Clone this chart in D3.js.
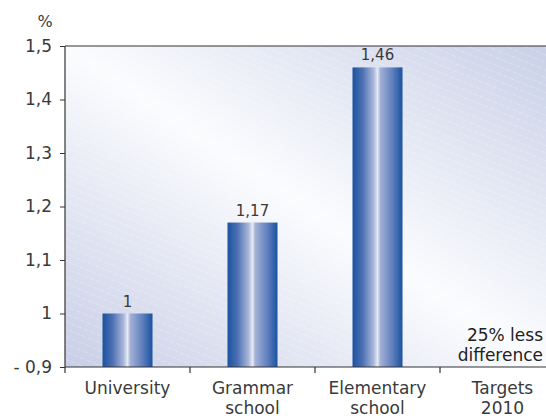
<!DOCTYPE html>
<html>
<head>
<meta charset="utf-8">
<script src="https://cdn.jsdelivr.net/npm/d3@7"></script>
<style>
  body { margin: 0; background: #fff; }
  text { font-family: "DejaVu Sans", sans-serif; fill: #3a3a3a; }
</style>
</head>
<body>
<script>
// data
var categories = [["University"], ["Grammar", "school"], ["Elementary", "school"], ["Targets", "2010"]];
var values = [1, 1.17, 1.46, null];
var valueLabels = ["1", "1,17", "1,46", ""];
var yTicks = [0.9, 1.0, 1.1, 1.2, 1.3, 1.4, 1.5];
var noteLines = ["25% less", "difference"];

var W = 546, H = 420;
var margin = {top: 46, right: 0, bottom: 53, left: 65};

var svg = d3.select("body").append("svg")
    .attr("width", W).attr("height", H);

var defs = svg.append("defs");

// background gradient: blue corners bottom-left / top-right, white diagonal
var bg = defs.append("linearGradient").attr("id", "bg")
    .attr("x1", "0%").attr("y1", "100%").attr("x2", "100%").attr("y2", "0%");
bg.append("stop").attr("offset", "0%").attr("stop-color", "#c8cee6");
bg.append("stop").attr("offset", "50%").attr("stop-color", "#fbfcfe");
bg.append("stop").attr("offset", "100%").attr("stop-color", "#c9d0e7");

// faint diagonal stripes
var pat = defs.append("pattern").attr("id", "stripes")
    .attr("patternUnits", "userSpaceOnUse")
    .attr("width", 7).attr("height", 7)
    .attr("patternTransform", "rotate(22)");
pat.append("line").attr("x1", 0).attr("y1", 0).attr("x2", 7).attr("y2", 0)
    .attr("stroke", "#fff").attr("stroke-width", 1.2).attr("stroke-dasharray", "3,2")
    .attr("opacity", 0.45);

// bar gradient
var bar = defs.append("linearGradient").attr("id", "bar")
    .attr("x1", "0%").attr("x2", "100%").attr("y1", "0%").attr("y2", "0%");
[["0%", "#1a52a0"], ["20%", "#4d70b3"], ["42%", "#a9b6da"], ["50%", "#e6eaf4"],
 ["56%", "#a2b0d6"], ["80%", "#5f7fbd"], ["100%", "#1a52a0"]].forEach(function(s) {
    bar.append("stop").attr("offset", s[0]).attr("stop-color", s[1]);
});

var x = d3.scaleBand().domain(d3.range(categories.length))
    .range([margin.left, margin.left + 125 * categories.length]);
var y = d3.scaleLinear().domain([0.9, 1.5]).range([H - margin.bottom, margin.top]);

var plotW = W - margin.left;
svg.append("rect").attr("x", margin.left).attr("y", margin.top)
    .attr("width", plotW).attr("height", y(0.9) - y(1.5))
    .attr("fill", "url(#bg)");
svg.append("rect").attr("x", margin.left).attr("y", margin.top)
    .attr("width", plotW).attr("height", y(0.9) - y(1.5))
    .attr("fill", "url(#stripes)");

// top border
svg.append("line").attr("x1", margin.left).attr("x2", W)
    .attr("y1", y(1.5)).attr("y2", y(1.5))
    .attr("stroke", "#333").attr("stroke-width", 1.2);

// bars
var barW = 50;
var data = values.map(function(v, i) { return {i: i, v: v, label: valueLabels[i]}; })
    .filter(function(d) { return d.v != null; });

svg.selectAll(".bar").data(data).enter().append("rect")
    .attr("class", "bar")
    .attr("x", function(d) { return x(d.i) + x.bandwidth() / 2 - barW / 2; })
    .attr("y", function(d) { return y(d.v); })
    .attr("width", barW)
    .attr("height", function(d) { return y(0.9) - y(d.v); })
    .attr("fill", "url(#bar)");

svg.selectAll(".val").data(data).enter().append("text")
    .attr("class", "val")
    .attr("x", function(d) { return x(d.i) + x.bandwidth() / 2; })
    .attr("y", function(d) { return y(d.v) - 7; })
    .attr("text-anchor", "middle")
    .style("font-size", "15px")
    .text(function(d) { return d.label; });

// y axis
var yAxis = d3.axisLeft(y).tickValues(yTicks).tickSize(5).tickPadding(8)
    .tickFormat(function(d) {
        var s = d3.format(".1f")(d).replace(".", ",");
        if (d === 1) s = "1";
        if (d === 0.9) s = "- " + s;
        return s;
    });
var gy = svg.append("g").attr("transform", "translate(" + margin.left + ",0)").call(yAxis);
gy.select(".domain").remove();
gy.selectAll("line").attr("stroke", "#333");
gy.selectAll("text").style("font-size", "17px").attr("font-family", null).attr("fill", "#3a3a3a");
svg.append("line").attr("x1", margin.left).attr("x2", margin.left)
    .attr("y1", y(1.5)).attr("y2", y(0.9) + 6)
    .attr("stroke", "#333").attr("stroke-width", 1.2);

svg.append("text").attr("x", 45).attr("y", 27).attr("text-anchor", "middle")
    .style("font-size", "16px").text("%");

// x axis
svg.append("line").attr("x1", margin.left).attr("x2", W)
    .attr("y1", y(0.9)).attr("y2", y(0.9))
    .attr("stroke", "#333").attr("stroke-width", 1.2);
svg.selectAll(".sep").data(d3.range(1, categories.length)).enter().append("line")
    .attr("class", "sep")
    .attr("x1", function(i) { return x(i); }).attr("x2", function(i) { return x(i); })
    .attr("y1", y(0.9)).attr("y2", y(0.9) + 6)
    .attr("stroke", "#333").attr("stroke-width", 1.2);

// category labels, one text per line
var catLines = [];
categories.forEach(function(lines, i) {
    lines.forEach(function(t, j) { catLines.push({i: i, j: j, t: t}); });
});
svg.selectAll(".cat").data(catLines).enter().append("text")
    .attr("class", "cat")
    .attr("x", function(d) { return x(d.i) + x.bandwidth() / 2; })
    .attr("y", function(d) { return y(0.9) + 27 + d.j * 20; })
    .attr("text-anchor", "middle")
    .style("font-size", "17px")
    .text(function(d) { return d.t; });

// note
svg.selectAll(".note").data(noteLines).enter().append("text")
    .attr("class", "note")
    .attr("x", W - 3)
    .attr("y", function(d, i) { return y(0.9) - 26 + i * 20; })
    .attr("text-anchor", "end")
    .style("font-size", "17px")
    .style("fill", "#222")
    .text(function(d) { return d; });
</script>
</body>
</html>
